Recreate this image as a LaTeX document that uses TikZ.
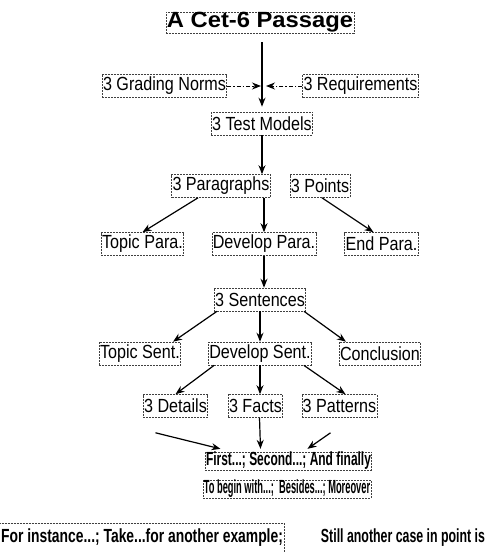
\documentclass[tikz,border=0pt]{standalone}
\usepackage{fontspec}
\usetikzlibrary{arrows.meta,positioning}
\setmainfont{Liberation Sans}
\newfontfamily\boxfont[FakeStretch=0.85]{Liberation Sans}
\newfontfamily\titlefont[FakeStretch=1.08]{Liberation Sans}
\newfontfamily\examplefont[FakeStretch=0.73]{Liberation Sans}
\newfontfamily\firstfont[FakeStretch=0.63]{Liberation Sans}
\newfontfamily\beginfont[FakeStretch=0.49]{Liberation Sans}
\newfontfamily\stillfont[FakeStretch=0.65]{Liberation Sans}

\begin{document}
\begin{tikzpicture}[x=1pt,y=-1pt,
    >={Stealth[length=9pt,width=7pt]},
    box/.style={
% The shape:
rectangle,
% The size:
minimum height=23pt,
inner xsep=0.8pt, inner ysep=0.5pt,
% The border:
draw=black!75, line width=0.6pt, dash pattern=on 2pt off 1pt,
% The text:
font=\boxfont\fontsize{19}{21}\selectfont,
},
    titlebox/.style={
box,
minimum height=21pt,
font=\titlefont\bfseries\fontsize{22}{24}\selectfont,
},
    phrase/.style={
box,
minimum height=16pt,
inner ysep=0pt,
},
    link/.style={->, line width=1.2pt},
    side/.style={->, line width=1pt, dash pattern=on 4pt off 2pt on 1.5pt off 2pt},
]
  \useasboundingbox (0,0) rectangle (486,552);

  \node[titlebox]                       (title) at (260, 22.5) {A Cet-6 Passage};
  \node[box]                            (norms) at (164.5, 86) {3 Grading Norms};
  \node[box]                            (reqs) at (360.5, 86) {3 Requirements};
  \coordinate                           (norms-end) at (261, 86);
  \coordinate                           (reqs-end) at (266, 86);
  \node[box]                            (models) at (262, 123.5) {3 Test Models};

  \node[box]                            (paras) at (221, 186) {3 Paragraphs};
  \node[box]                            (points) at (320, 186) {3 Points};
  \node[box]                            (topicpara) at (142.5, 244) {Topic Para.};
  \node[box]                            (devpara) at (264, 244) {Develop Para.};
  \node[box]                            (endpara) at (381.5, 244) {End Para.};

  \node[box]                            (sents) at (260, 299.5) {3 Sentences};
  \node[box]                            (topicsent) at (140, 353.5) {Topic Sent.};
  \node[box]                            (devsent) at (260, 353.5) {Develop Sent.};
  \node[box]                            (concl) at (380, 353.5) {Conclusion};

  \node[box]                            (details) at (175.5, 406) {3 Details};
  \node[box]                            (facts) at (255.5, 406) {3 Facts};
  \node[box]                            (patterns) at (339.5, 406) {3 Patterns};

  \node[phrase,font=\firstfont\bfseries\fontsize{19}{21}\selectfont]
    (first) at (288.5, 461) {First...; Second...; And finally};
  \node[phrase,font=\beginfont\bfseries\fontsize{19}{21}\selectfont]
    (begin) at (287, 489) {To begin with...;\ \ Besides...; Moreover};
  \node[box,minimum height=29pt,inner xsep=1.5pt,
    font=\examplefont\bfseries\fontsize{19}{21}\selectfont]
    (instance) at (142, 537.5) {For instance...; Take...for another example;};
  \node[font=\stillfont\bfseries\fontsize{19}{21}\selectfont,inner sep=0pt]
    (still) at (403, 538) {Still another case in point is};

  \draw [link, shorten <=9pt, shorten >=5pt] (title.south -| models) -- (models.north);
  \draw [side] (norms) -- (norms-end);
  \draw [side] (reqs) -- (reqs-end);

  \draw [link] (models.south) -- (models.south |- paras.north);
  \draw [link] ([xshift=-23pt]paras.south) -- (topicpara.north);
  \draw [link] (paras.south -| devpara) -- (devpara.north);
  \draw [link] ([xshift=2pt]points.south) -- ([xshift=-8pt]endpara.north);

  \draw [link] (devpara.south) -- (devpara.south |- sents.north);
  \draw [link] ([xshift=3pt]sents.south west) -- ([xshift=-8pt]topicsent.north east);
  \draw [link] (sents.south) -- (devsent.north);
  \draw [link] ([xshift=-2pt]sents.south east) -- ([xshift=7pt]concl.north west);

  \draw [link] ([xshift=6pt]devsent.south west) -- (details.north);
  \draw [link] (devsent.south) -- (devsent.south |- facts.north);
  \draw [link] ([xshift=-8pt]devsent.south east) -- ([xshift=6pt]patterns.north);

  \draw [link] ([xshift=-20pt,yshift=-15pt]details.south) -- ([xshift=-68pt,yshift=3pt]first.north);
  \draw [link] ([xshift=4pt]facts.south) -- ([xshift=-28pt,yshift=3pt]first.north);
  \draw [link] ([xshift=-9pt,yshift=-15pt]patterns.south) -- ([xshift=19pt,yshift=3pt]first.north);

\end{tikzpicture}
\end{document}
